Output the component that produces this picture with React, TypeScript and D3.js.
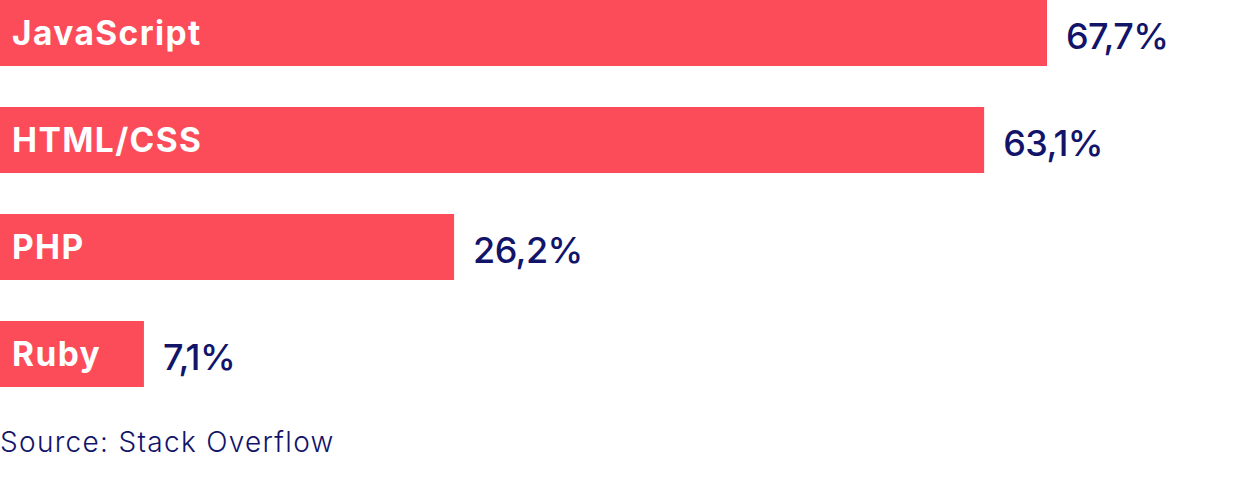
import * as d3 from "d3";
import React, { useEffect, useRef } from "react";

const languages = ["JavaScript", "HTML/CSS", "PHP", "Ruby"];
const shares = [67.7, 63.1, 26.2, 7.1];
const valueLabels = ["67,7%", "63,1%", "26,2%", "7,1%"];
const sourceNote = "Source: Stack Overflow";

const RED = "#fc4c59";
const NAVY = "#12146a";

export default function App() {
	const svgRef = useRef(null);

	useEffect(() => {
		const svg = d3.select(svgRef.current);
		const width = 1260;
		const height = 483;

		svg.selectAll("*").remove();
		svg.attr("width", width).attr("height", height).attr("viewBox", [0, 0, width, height]);

		const data = languages.map((name, i) => ({ name, value: shares[i], label: valueLabels[i] }));

		// bar lengths
		const x = d3.scalePow().exponent(0.88).domain([0, d3.max(shares)]).range([0, 1047]);
		const y = d3.scaleBand().domain(languages).range([0, 387]).paddingInner(0.383).paddingOuter(0);

		const rows = svg
			.append("g")
			.selectAll("g")
			.data(data)
			.join("g")
			.attr("transform", (d) => `translate(0,${y(d.name)})`);

		rows
			.append("rect")
			.attr("x", 0)
			.attr("y", 0)
			.attr("width", (d) => x(d.value))
			.attr("height", y.bandwidth())
			.attr("fill", RED);

		rows
			.append("text")
			.attr("x", 12)
			.attr("y", y.bandwidth() / 2 + 12)
			.attr("fill", "white")
			.attr("font-family", "Inter, sans-serif")
			.attr("font-weight", 700)
			.attr("font-size", 33.5)
			.attr("letter-spacing", 1.4)
			.text((d) => d.name);

		rows
			.append("text")
			.attr("x", (d) => x(d.value) + 19)
			.attr("y", y.bandwidth() / 2 + 16)
			.attr("fill", NAVY)
			.attr("font-family", "Inter, sans-serif")
			.attr("font-weight", 500)
			.attr("font-size", 36)
			.attr("letter-spacing", -0.6)
			.text((d) => d.label);

		svg
			.append("text")
			.attr("x", 0)
			.attr("y", 452)
			.attr("fill", NAVY)
			.attr("font-family", "Inter, sans-serif")
			.attr("font-weight", 300)
			.attr("font-size", 28)
			.attr("letter-spacing", 1.3)
			.text(sourceNote);
	}, []);

	return (
		<div style={{ position: "absolute", left: 0, top: 0, background: "white" }}>
			<svg ref={svgRef} style={{ display: "block" }} />
		</div>
	);
}
